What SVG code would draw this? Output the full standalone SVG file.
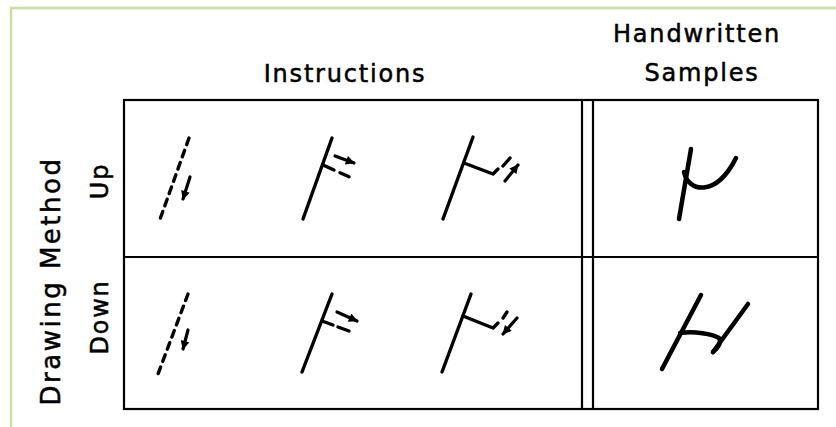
<svg xmlns="http://www.w3.org/2000/svg" width="836" height="427" viewBox="0 0 836 427">
<defs>
<style>
.frame{fill:none;stroke:#000;stroke-width:2.2}
.s{fill:none;stroke:#000;stroke-width:3.4;stroke-linecap:round;stroke-linejoin:round}
.d{fill:none;stroke:#000;stroke-width:3.4;stroke-linecap:round;stroke-dasharray:7 6}
.a{fill:none;stroke:#000;stroke-width:3.2;stroke-linecap:round;marker-end:url(#ah)}
.h{fill:none;stroke:#000;stroke-width:4.5;stroke-linecap:round;stroke-linejoin:round}
.t{font-family:"DejaVu Sans",sans-serif;font-size:24px;fill:#000;stroke:#000;stroke-width:0.5;text-anchor:middle;letter-spacing:1.8px}
.big{font-size:26px;letter-spacing:2.5px}
</style>
<marker id="ah" viewBox="0 0 10 10" refX="9" refY="5" markerUnits="userSpaceOnUse" markerWidth="10" markerHeight="9" orient="auto">
<path d="M0,0 L10,5 L0,10 Z" fill="#000"/>
</marker>
</defs>
<rect width="836" height="427" fill="#fff"/>
<path d="M11,427 V8 H836" fill="none" stroke="#c8e0a8" stroke-width="2.5"/>
<g id="labels">
<text class="t" x="345" y="82">Instructions</text>
<text class="t" x="697" y="42">Handwritten</text>
<text class="t" x="702" y="81">Samples</text>
<text class="t big" transform="translate(60,281) rotate(-90)">Drawing  Method</text>
<text class="t" transform="translate(108,181) rotate(-90)">Up</text>
<text class="t" transform="translate(108,317) rotate(-90)">Down</text>
</g>
<g id="grid">
<rect class="frame" x="124" y="100" width="694" height="309"/>
<line class="frame" x1="124" y1="257" x2="818" y2="257"/>
<line class="frame" x1="582" y1="100" x2="582" y2="409"/>
<line class="frame" x1="593" y1="100" x2="593" y2="409"/>
</g>
<g id="up-instr-1">
<line class="d" x1="189" y1="138" x2="159" y2="222"/>
<line class="a" x1="190" y1="177" x2="183" y2="199"/>
</g>
<g id="up-instr-2">
<line class="s" x1="332" y1="138" x2="303" y2="219"/>
<line class="s" x1="323" y1="165" x2="334" y2="170"/>
<line class="s" x1="340" y1="172.7" x2="349" y2="176.7"/>
<line class="a" x1="335" y1="156" x2="354" y2="163"/>
</g>
<g id="up-instr-3">
<line class="s" x1="473" y1="137" x2="443" y2="219"/>
<polyline class="s" points="464,163 493,174 498,169"/>
<line class="s" x1="503" y1="166" x2="510" y2="158"/>
<line class="a" x1="505" y1="181" x2="518" y2="165"/>
</g>
<g id="up-sample">
<path class="h" d="M691,149 L679,219"/>
<path class="h" d="M684,172 C688,192 716,198 736,158"/>
</g>
<g id="down-instr-1">
<line class="d" x1="188" y1="294" x2="158" y2="374"/>
<line class="a" x1="188" y1="330" x2="183" y2="349"/>
</g>
<g id="down-instr-2">
<line class="s" x1="332" y1="294" x2="302" y2="372"/>
<line class="s" x1="322" y1="321" x2="333" y2="325"/>
<line class="s" x1="338" y1="327" x2="349" y2="331"/>
<line class="a" x1="337" y1="312" x2="357" y2="321"/>
</g>
<g id="down-instr-3">
<line class="s" x1="471" y1="294" x2="442" y2="372"/>
<polyline class="s" points="463,316 493,328 498,323"/>
<line class="s" x1="503" y1="318" x2="507" y2="312"/>
<line class="a" x1="517" y1="318" x2="503" y2="334"/>
</g>
<g id="down-sample">
<path class="h" d="M701,295 L662,369"/>
<path class="h" d="M680,333 C695,331 712,334 719,338 C722,342 718,348 713,352"/>
<path class="h" d="M748,304 L713,352"/>
</g>
</svg>
